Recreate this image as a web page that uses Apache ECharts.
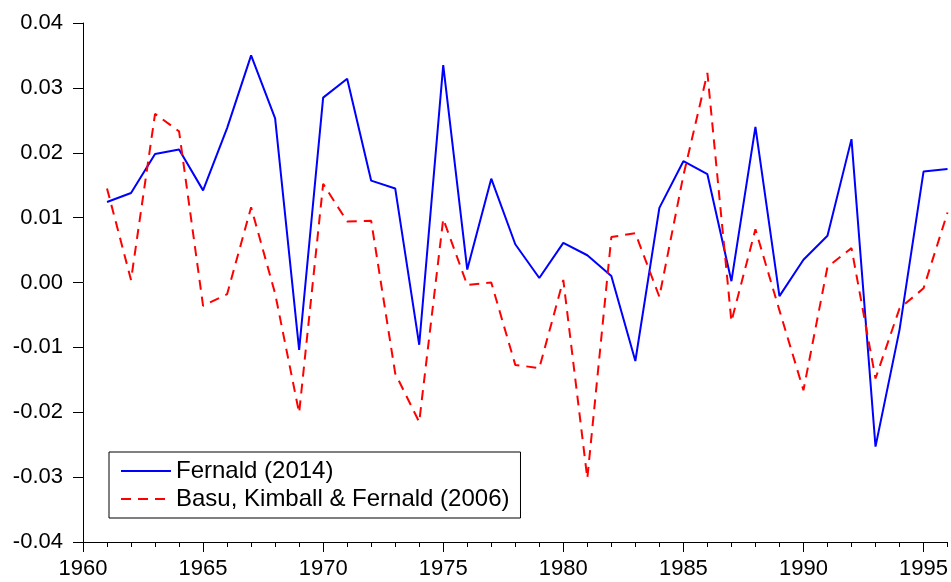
<!DOCTYPE html>
<html>
<head>
<meta charset="utf-8">
<script src="https://cdn.jsdelivr.net/npm/echarts@6/dist/echarts.min.js"></script>
<style>
html,body{margin:0;padding:0;background:#fff;}
#chart{width:951px;height:582px;}
</style>
</head>
<body>
<div id="chart"></div>
<script>
var years = [1961,1962,1963,1964,1965,1966,1967,1968,1969,1970,1971,1972,1973,1974,1975,1976,1977,1978,1979,1980,1981,1982,1983,1984,1985,1986,1987,1988,1989,1990,1991,1992,1993,1994,1995,1996];
var fernald2014 = [0.0124,0.0138,0.0198,0.0205,0.0142,0.0238,0.0350,0.0253,-0.0104,0.0285,0.0314,0.0157,
                   0.0145,-0.0096,0.0335,0.0020,0.0160,0.0059,0.0007,0.0061,0.0042,0.0010,-0.0121,0.0115,
                   0.0187,0.0167,0.0002,0.0240,-0.0021,0.0035,0.0072,0.0221,-0.0253,-0.0073,0.0171,0.0175];
var bkf2006 = [0.0145,0.0004,0.0260,0.0233,-0.0036,-0.0018,0.0116,-0.0017,-0.0201,0.0152,0.0094,0.0095,
               -0.0140,-0.0215,0.0098,-0.0004,0.0000,-0.0127,-0.0132,0.0004,-0.0302,0.0070,0.0076,-0.0022,
               0.0165,0.0323,-0.0060,0.0082,-0.0043,-0.0166,0.0024,0.0053,-0.0148,-0.0040,-0.0009,0.0108];
var seriesNames = ['Fernald (2014)', 'Basu, Kimball & Fernald (2006)'];
var xLabelTicks = [1960,1965,1970,1975,1980,1985,1990,1995];
var yTicks = [-0.04,-0.03,-0.02,-0.01,0.00,0.01,0.02,0.03,0.04];

function pairs(xs, ys){ return xs.map(function(x,i){ return [x, ys[i]]; }); }

var FONT = "'Liberation Sans', Arial, sans-serif";
var chart = echarts.init(document.getElementById('chart'), null, {renderer:'canvas'});
chart.setOption({
  animation: false,
  backgroundColor: '#fff',
  grid: {left: 83, right: 3, top: 23, bottom: 40, containLabel: false},
  xAxis: [{
    type: 'value', min: 1960, max: 1996, position: 'bottom',
    axisLine: {show: true, onZero: false, lineStyle: {color: '#000', width: 1}},
    axisTick: {show: true, length: 10, inside: false, customValues: xLabelTicks, lineStyle: {color: '#000'}},
    axisLabel: {show: true, customValues: xLabelTicks, margin: 16, color: '#000', fontSize: 22, fontFamily: FONT,
                formatter: function(v){ return String(v); }},
    splitLine: {show: false}
  },{
    type: 'value', min: 1960, max: 1996, interval: 1, position: 'bottom', offset: 0,
    axisLine: {show: false, onZero: false},
    axisTick: {show: true, length: 5, inside: false, lineStyle: {color: '#000'}},
    axisLabel: {show: false},
    splitLine: {show: false}
  }],
  yAxis: {
    type: 'value', min: -0.04, max: 0.04, interval: 0.01,
    axisLine: {show: true, onZero: false, lineStyle: {color: '#000', width: 1}},
    axisTick: {show: true, length: 10, inside: false, customValues: yTicks, lineStyle: {color: '#000'}},
    axisLabel: {customValues: yTicks, margin: 20, color: '#000', fontSize: 22, fontFamily: FONT,
                formatter: function(v){ return v.toFixed(2); }},
    splitLine: {show: false}
  },
  legend: {
    orient: 'vertical', left: 109, top: 452,
    backgroundColor: '#fff', borderColor: '#000', borderWidth: 1, borderRadius: 0,
    padding: [7, 11, 7, 11], itemGap: 4, itemWidth: 50, itemHeight: 2,
    itemStyle: {opacity: 0},
    textStyle: {color: '#000', fontSize: 24, lineHeight: 24, fontFamily: FONT},
    data: seriesNames
  },
  series: [{
    name: seriesNames[0], type: 'line', xAxisIndex: 0, symbol: 'none',
    data: pairs(years, fernald2014),
    lineStyle: {color: '#0000ff', width: 2}, itemStyle: {color: '#0000ff'}
  },{
    name: seriesNames[1], type: 'line', xAxisIndex: 0, symbol: 'none',
    data: pairs(years, bkf2006),
    lineStyle: {color: '#ff0000', width: 2, type: [10, 7]}, itemStyle: {color: '#ff0000'}
  }]
});
</script>
</body>
</html>
